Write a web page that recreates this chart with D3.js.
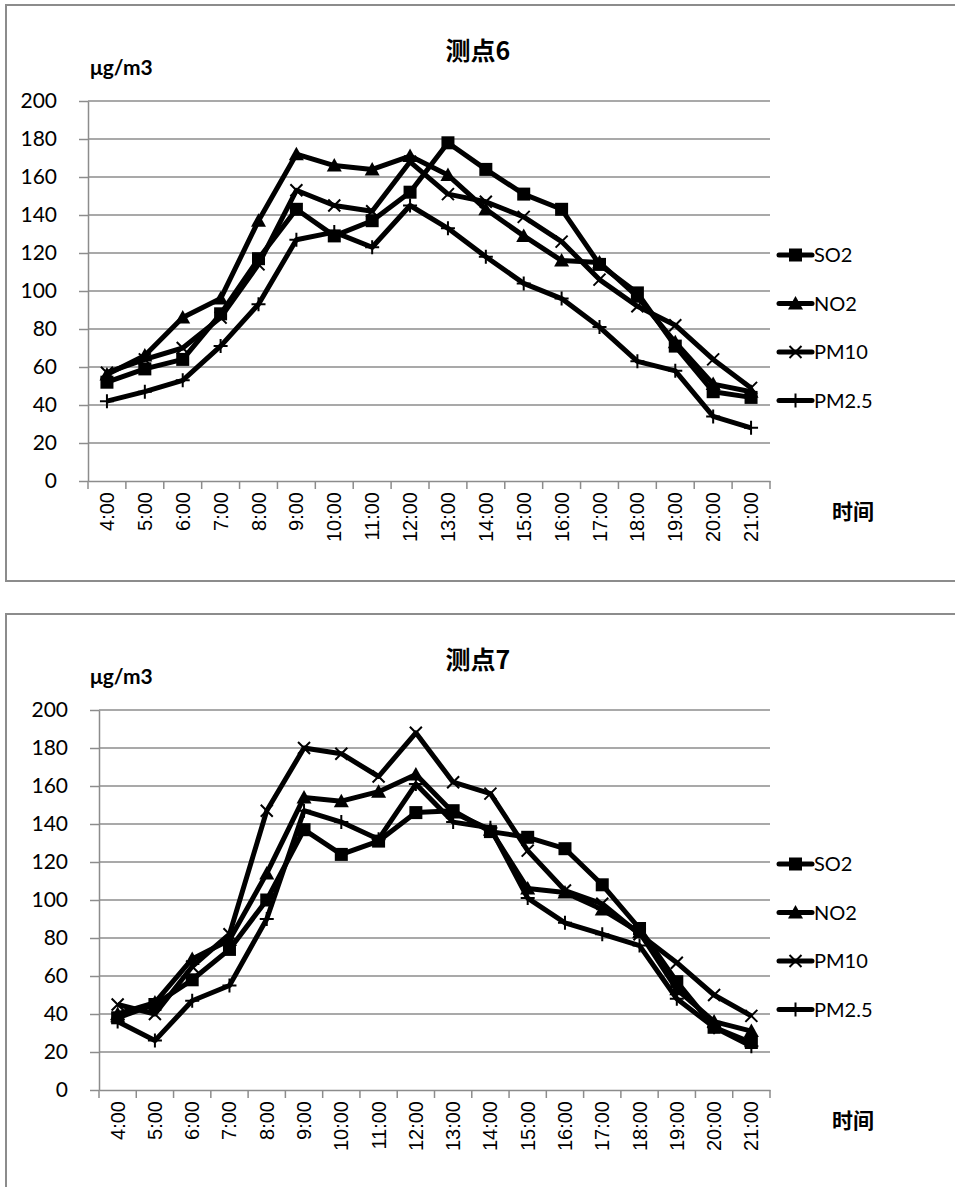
<!DOCTYPE html>
<html><head><meta charset="utf-8">
<script src="https://cdn.jsdelivr.net/npm/d3@7"></script>
<style>
html,body{margin:0;padding:0;background:#fff;}
svg{display:block;}
</style>
</head><body>
<svg id="chart" width="955" height="1187"></svg>
<script>
const categories = ["4:00","5:00","6:00","7:00","8:00","9:00","10:00","11:00","12:00","13:00","14:00","15:00","16:00","17:00","18:00","19:00","20:00","21:00"];
const seriesNames = ["SO2","NO2","PM10","PM2.5"];
const yTicks = [0,20,40,60,80,100,120,140,160,180,200];

// 测点6
const site6SO2  = [52,59,64,88,117,143,129,137,152,178,164,151,143,114,99,71,47,44];
const site6NO2  = [56,66,86,96,137,172,166,164,171,161,143,129,116,115,97,73,51,47];
const site6PM10 = [57,64,70,86,114,153,145,142,168,151,147,139,126,106,92,82,64,49];
const site6PM25 = [42,47,53,71,93,127,131,123,145,133,118,104,96,81,63,58,34,28];

// 测点7
const site7SO2  = [38,45,58,74,100,137,124,131,146,147,136,133,127,108,85,57,33,25];
const site7NO2  = [40,46,69,79,114,154,152,157,166,146,137,106,104,95,83,53,36,31];
const site7PM10 = [45,40,65,82,147,180,177,165,188,162,156,126,105,98,82,67,50,39];
const site7PM25 = [36,26,47,55,90,147,141,132,161,141,138,101,88,82,76,48,33,23];

const charts = [
  {title:"测点6", top:0, axisX:88, data:[site6SO2,site6NO2,site6PM10,site6PM25]},
  {title:"测点7", top:609, axisX:99, data:[site7SO2,site7NO2,site7PM10,site7PM25]}
];

const svg = d3.select("#chart");
const gridColor = "#8c8c8c";
const latin = "Lato, 'Open Sans', sans-serif";

function marker(g, type, x, y) {
  if (type === 0) {
    g.append("rect").attr("x", x-6.5).attr("y", y-6.5).attr("width", 13).attr("height", 13).attr("fill", "#000");
  } else if (type === 1) {
    g.append("path").attr("d", `M${x},${y-7.5}L${x+7.5},${y+6}L${x-7.5},${y+6}Z`).attr("fill", "#000");
  } else if (type === 2) {
    g.append("path").attr("d", `M${x-6},${y-6}L${x+6},${y+6}M${x-6},${y+6}L${x+6},${y-6}`).attr("stroke", "#000").attr("stroke-width", 2);
  } else {
    g.append("path").attr("d", `M${x-7},${y}L${x+7},${y}M${x},${y-7}L${x},${y+7}`).attr("stroke", "#000").attr("stroke-width", 2);
  }
}

charts.forEach(c => {
  const g = svg.append("g").attr("transform", `translate(0,${c.top})`);
  g.append("rect").attr("x", 6).attr("y", 5).attr("width", 960).attr("height", 576)
    .attr("fill", "#fff").attr("stroke", gridColor).attr("stroke-width", 2);

  const x = d3.scaleBand().domain(categories).range([c.axisX, 770]).paddingInner(0).paddingOuter(0);
  const y = d3.scaleLinear().domain([0, 200]).range([481, 101]);

  g.append("g").selectAll("line").data(yTicks.filter(d => d > 0)).join("line")
    .attr("x1", c.axisX).attr("x2", 770).attr("y1", d => y(d)).attr("y2", d => y(d))
    .attr("stroke", gridColor).attr("stroke-width", 1.5);

  const yAxis = g.append("g").attr("transform", `translate(${c.axisX},0)`)
    .call(d3.axisLeft(y).tickValues(yTicks).tickSize(9).tickPadding(22).tickSizeOuter(0));
  yAxis.select(".domain").attr("stroke", gridColor).attr("stroke-width", 1.5);
  yAxis.selectAll(".tick line").attr("stroke", gridColor).attr("stroke-width", 1.5);
  yAxis.selectAll(".tick text").attr("font-family", latin).attr("font-size", 21).attr("fill", "#000");

  const xAxis = g.append("g").attr("transform", `translate(0,${y(0)})`)
    .call(d3.axisBottom(x).tickSize(0).tickSizeOuter(0));
  xAxis.select(".domain").attr("stroke", gridColor).attr("stroke-width", 1.5);
  xAxis.selectAll(".tick text")
    .attr("font-family", "'Liberation Sans', Arial, sans-serif").attr("font-size", 20).attr("fill", "#000")
    .attr("transform", "rotate(-90)").attr("text-anchor", "end").attr("x", -11).attr("y", 0).attr("dy", "0.35em");
  const bounds = categories.map(d => x(d)).concat([770]);
  g.append("g").selectAll("line").data(bounds).join("line")
    .attr("x1", d => d).attr("x2", d => d).attr("y1", y(0)).attr("y2", y(0) + 8)
    .attr("stroke", gridColor).attr("stroke-width", 1.5);

  const line = d3.line().x((d, i) => x(categories[i]) + x.bandwidth()/2).y(d => y(d));
  c.data.forEach((vals, si) => {
    const sg = g.append("g");
    sg.append("path").attr("d", line(vals)).attr("fill", "none").attr("stroke", "#000")
      .attr("stroke-width", 5).attr("stroke-linejoin", "round");
    vals.forEach((v, i) => marker(sg, si, x(categories[i]) + x.bandwidth()/2, y(v)));
  });

  seriesNames.forEach((n, i) => {
    const ly = 255 + i * 48.5;
    const lg = g.append("g");
    lg.append("line").attr("x1", 779).attr("x2", 812).attr("y1", ly).attr("y2", ly)
      .attr("stroke", "#000").attr("stroke-width", 5).attr("stroke-linecap", "round");
    marker(lg, i, 795.5, ly);
    lg.append("text").attr("x", 814).attr("y", ly).attr("dy", "0.35em")
      .attr("font-family", latin).attr("font-size", 20).text(n);
  });

  g.append("text").attr("x", 478).attr("y", 60).attr("text-anchor", "middle")
    .attr("font-family", "'Noto Sans CJK SC', sans-serif").attr("font-weight", "bold").attr("font-size", 25).text(c.title);
  g.append("text").attr("x", 90).attr("y", 75)
    .attr("font-family", latin).attr("font-weight", "bold").attr("font-size", 21).text("μg/m3");
  g.append("text").attr("x", 832).attr("y", 519)
    .attr("font-family", "'Noto Sans CJK SC', sans-serif").attr("font-weight", "bold").attr("font-size", 21).text("时间");
});
</script>
</body></html>
